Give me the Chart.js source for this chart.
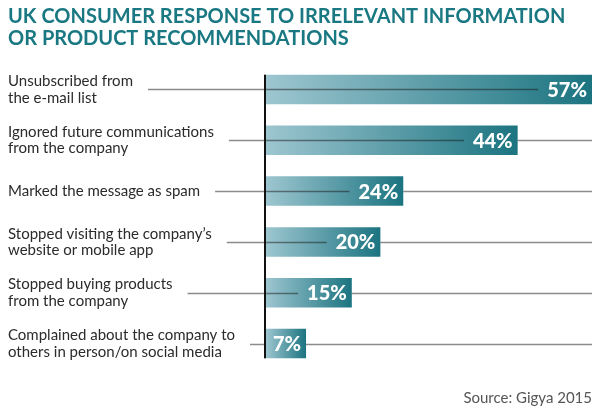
<!DOCTYPE html>
<html>
<head>
<meta charset="utf-8">
<script src="https://cdn.jsdelivr.net/npm/chart.js@4/dist/chart.umd.min.js"></script>
<style>
  html, body { margin: 0; padding: 0; background: #fff; }
  #wrap { width: 600px; height: 415px; }
</style>
</head>
<body>
<div id="wrap"><canvas id="chart"></canvas></div>
<script>
'use strict';

// ── Data ──────────────────────────────────────────────────────────────────
const TITLE_LINES = ['UK CONSUMER RESPONSE TO IRRELEVANT INFORMATION', 'OR PRODUCT RECOMMENDATIONS'];
const CATEGORIES = [
  ['Unsubscribed from', 'the e-mail list'],
  ['Ignored future communications', 'from the company'],
  ['Marked the message as spam'],
  ['Stopped visiting the company\u2019s', 'website or mobile app'],
  ['Stopped buying products', 'from the company'],
  ['Complained about the company to', 'others in person/on social media'],
];
const VALUES = [57, 44, 24, 20, 15, 7];
const SOURCE = 'Source: Gigya 2015';

// ── Theme ─────────────────────────────────────────────────────────────────
const TEAL       = '#1a7882';
const BAR_LIGHT  = '#9dc6d0';
const BAR_DARK   = '#1b7480';
const LABEL_FONT = { family: 'Lato', size: 15, lineHeight: 1.1 };
const LABEL_LEFT = 8;

function barGradient(ctx) {
  const chart = ctx.chart;
  if (!chart.chartArea) return BAR_DARK;
  const xs = chart.scales.x;
  const x0 = xs.getPixelForValue(0);
  const x1 = xs.getPixelForValue(ctx.raw);
  const g = chart.ctx.createLinearGradient(x0, 0, x1, 0);
  g.addColorStop(0, BAR_LIGHT);
  g.addColorStop(1, BAR_DARK);
  return g;
}

// leader lines, axis rule and value labels
const decorations = {
  id: 'decorations',
  afterDatasetsDraw(chart) {
    const { ctx, chartArea } = chart;
    const bars = chart.getDatasetMeta(0).data;
    ctx.save();

    ctx.font = `${LABEL_FONT.size}px ${LABEL_FONT.family}`;
    const starts = CATEGORIES.map(lines =>
      LABEL_LEFT + Math.max(...lines.map(l => ctx.measureText(l).width)) + 15);

    ctx.font = '900 20px Lato';
    ctx.strokeStyle = 'rgba(25, 25, 25, 0.5)';
    ctx.lineWidth = 1.5;
    bars.forEach((bar, i) => {
      const text = VALUES[i] + '%';
      const tw = ctx.measureText(text).width;
      const textLeft = bar.x - 6 - tw;
      const y = Math.round(bar.y) + 0.5;
      ctx.beginPath();
      ctx.moveTo(starts[i], y);
      ctx.lineTo(textLeft - 8, y);
      if (bar.x < chartArea.right) {
        ctx.moveTo(bar.x, y);
        ctx.lineTo(chartArea.right, y);
      }
      ctx.stroke();
    });

    // vertical axis rule
    const top = bars[0].y - bars[0].height / 2;
    const bottom = bars[bars.length - 1].y + bars[bars.length - 1].height / 2;
    ctx.fillStyle = '#111';
    ctx.fillRect(chartArea.left - 2, top, 2, bottom - top);

    // value labels
    ctx.fillStyle = '#fff';
    ctx.textAlign = 'right';
    ctx.textBaseline = 'middle';
    bars.forEach((bar, i) => {
      ctx.fillText(VALUES[i] + '%', bar.x - 5, bar.y + 1);
    });
    ctx.restore();
  },
};

new Chart(document.getElementById('chart'), {
  type: 'bar',
  data: {
    labels: CATEGORIES,
    datasets: [{
      data: VALUES,
      backgroundColor: barGradient,
      borderWidth: 0,
      barPercentage: 0.58,
      categoryPercentage: 1,
    }],
  },
  options: {
    indexAxis: 'y',
    responsive: true,
    maintainAspectRatio: false,
    animation: false,
    layout: { padding: { left: LABEL_LEFT, right: 8, top: 0, bottom: 0 } },
    plugins: {
      legend: { display: false },
      tooltip: { enabled: false },
      title: {
        display: true,
        text: TITLE_LINES,
        align: 'start',
        color: TEAL,
        font: { family: 'Lato', size: 20, weight: 'bold', lineHeight: 1.1 },
        padding: { top: 6, bottom: 14 },
      },
      subtitle: {
        display: true,
        position: 'bottom',
        text: SOURCE,
        align: 'end',
        color: '#555',
        font: { family: 'Lato', size: 15 },
        padding: { top: 20, bottom: 8 },
      },
    },
    scales: {
      x: {
        display: false,
        min: 0,
        max: Math.max(...VALUES),
      },
      y: {
        afterFit: (scale) => { scale.width = 258; },
        border: { display: false },
        grid: { display: false },
        ticks: {
          crossAlign: 'far',
          color: '#2b2b2b',
          font: LABEL_FONT,
          padding: 0,
        },
      },
    },
  },
  plugins: [decorations],
});
</script>
</body>
</html>
